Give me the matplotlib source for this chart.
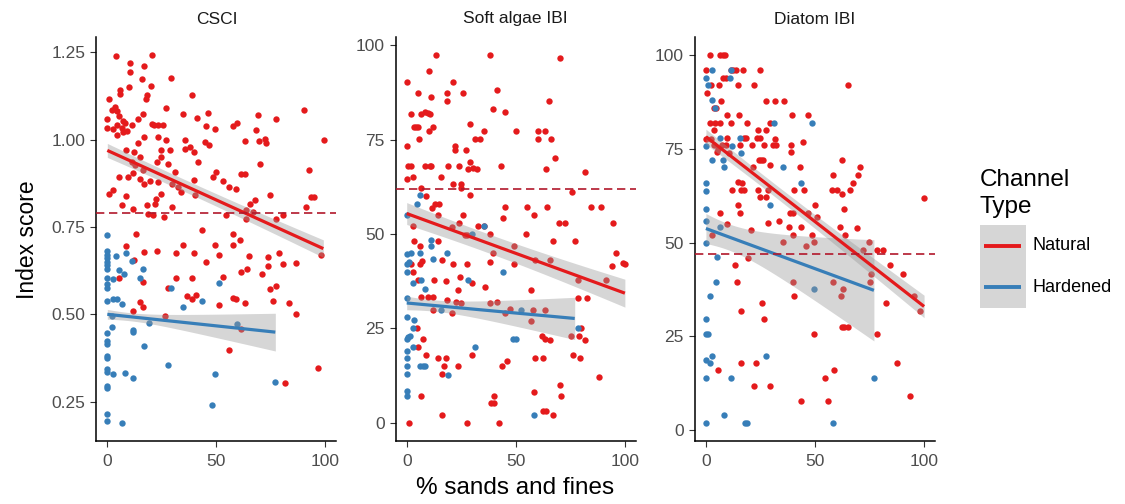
import numpy as np
import matplotlib
matplotlib.use("Agg")
import matplotlib.pyplot as plt
from matplotlib.patches import Rectangle

plt.rcParams['font.family'] = ['Liberation Sans', 'DejaVu Sans']

panels = ["CSCI", "Soft algae IBI", "Diatom IBI"]
groups = ["Natural", "Hardened"]
colors = {"Natural": "#E41A1C", "Hardened": "#377EB8"}
hline_color = "#B2182B"

# ---- CSCI ----
csci_nat = [
    (4, 1.239), (10.4, 1.218), (16.8, 1.211), (20.7, 1.241), (10.4, 1.192), (16, 1.172), (29, 1.177),
    (10, 1.151), (19.8, 1.153), (6, 1.141), (1, 1.117), (5.8, 1.13), (17.7, 1.117), (18.3, 1.127),
    (38.9, 1.129), (2, 1.084), (3.5, 1.092), (4.6, 1.082), (5.5, 1.067), (0, 1.06), (0, 1.034),
    (2.4, 1.03), (4.3, 1.041), (7, 1.053), (8.2, 1.048), (6.6, 1.033), (4.6, 1.012), (7.3, 1.022),
    (8.8, 1.025), (11.4, 1.041), (14.2, 1.06), (16.5, 1.072), (20.7, 1.046), (21.3, 1.041),
    (23.3, 1.041), (25.6, 1.041), (27.1, 1.089), (34.8, 1.074), (41.2, 1.063), (46.2, 1.077),
    (45.1, 1.038), (49.2, 1.03), (57.6, 1.038), (59.5, 1.047), (69, 1.07), (77.4, 1.058), (90, 1.086),
    (68.3, 1.027), (72.1, 1.003), (63, 0.995), (69.5, 0.995), (72.9, 0.989), (99.5, 0.998),
    (13.9, 0.989), (16.9, 1.008), (23.3, 1.008), (27.1, 0.998), (28.6, 0.971), (35.5, 0.998),
    (37.8, 0.979), (44.7, 0.993), (46.6, 0.984), (41.5, 0.936), (39.9, 0.965), (35.5, 0.974),
    (24.8, 0.971), (24.8, 0.95), (22.6, 0.936), (8.5, 0.969), (12.3, 0.965), (14.9, 0.95),
    (11.1, 0.936), (12.7, 0.927), (16.2, 0.912), (11.9, 0.903), (9.6, 0.893), (5.5, 0.893),
    (14.8, 0.888), (19.5, 0.882), (16.9, 0.874), (23.3, 0.879), (27.9, 0.931), (31, 0.907),
    (32.5, 0.865), (29.6, 0.874), (33.8, 0.85), (39.9, 0.884), (40.2, 0.841), (48.6, 0.893),
    (49.8, 0.907), (53, 0.882), (56, 0.865), (59.1, 0.86), (61.4, 0.901), (63, 0.901), (70, 0.931),
    (74.7, 0.841), (92.4, 0.914), (93.3, 0.836), (94.8, 0.836), (90.9, 0.807), (1, 0.844),
    (2.7, 0.857), (8.5, 0.838), (6.6, 0.812), (11.6, 0.802), (18, 0.812), (22.3, 0.831),
    (21.8, 0.817), (24.7, 0.845), (18.8, 0.786), (21, 0.783), (25.9, 0.779), (29.6, 0.807),
    (63.7, 0.798), (65.2, 0.817), (67.5, 0.826), (66.8, 0.793), (63.4, 0.774), (77.4, 0.774),
    (80.5, 0.783), (54.6, 0.783), (43.6, 0.74), (13.1, 0.729), (57.6, 0.729), (60.7, 0.712),
    (8.5, 0.695), (34.5, 0.698), (49.2, 0.698), (57.6, 0.698), (73.6, 0.664),
    (16.8, 0.677), (22.6, 0.681), (31.4, 0.675), (39.6, 0.675), (51.2, 0.669), (64.9, 0.667),
    (78.7, 0.675), (98, 0.669), (12.3, 0.656), (45.3, 0.65), (80.5, 0.643), (86.3, 0.648),
    (73.6, 0.638), (64, 0.631), (61.4, 0.621), (71, 0.614), (53, 0.608), (31.7, 0.603),
    (38.9, 0.603), (5.5, 0.605), (16.2, 0.593), (27.9, 0.576), (77.4, 0.581), (74.7, 0.572),
    (36.3, 0.551), (38.6, 0.545), (40.5, 0.554), (57.6, 0.548), (59.1, 0.543), (63, 0.533),
    (75.9, 0.538), (83.5, 0.531), (14.9, 0.535), (16.2, 0.522), (51.2, 0.526), (86.3, 0.502),
    (11.9, 0.51), (26.4, 0.495), (61.4, 0.457), (55.8, 0.398), (96.5, 0.347), (81.3, 0.302),
]
csci_hard = [
    (0, 0.726), (0, 0.68), (0, 0.67), (0, 0.66), (0, 0.65), (0, 0.64), (0, 0.63), (0, 0.605),
    (0, 0.586), (0, 0.576), (4, 0.667), (8.5, 0.675), (11.1, 0.652), (16.5, 0.63), (5.5, 0.628),
    (7.6, 0.614), (2.7, 0.6), (14.9, 0.605), (0, 0.538), (2.7, 0.543), (4.6, 0.543), (6.6, 0.529),
    (29, 0.576), (34.8, 0.522), (43.4, 0.538), (51.2, 0.589), (2, 0.495), (2, 0.465), (0, 0.446),
    (0, 0.424), (0, 0.414), (11.6, 0.455), (11.6, 0.448), (19, 0.474), (59.5, 0.471), (16.8, 0.408),
    (0, 0.381), (0, 0.376), (0, 0.343), (0, 0.334), (2.7, 0.329), (8.1, 0.331), (11.9, 0.319),
    (27.6, 0.354), (49.2, 0.329), (76.7, 0.306), (0, 0.296), (0, 0.288), (48, 0.24), (0, 0.214),
    (0, 0.195), (6.6, 0.19),
]

# ---- Soft algae IBI ----
soft_nat = [
    (13.5, 97.3), (38.4, 97.3), (70.4, 96.7), (0, 90.3), (10.4, 93.2), (21.2, 90.3), (5, 87.2),
    (11.3, 86.3), (18.3, 87.2), (18.6, 85.1), (25.9, 87.2), (41.3, 88.2), (39.5, 83.2), (45.2, 82.3),
    (65.3, 85.1), (1.9, 81.7), (6.5, 81.7), (8.5, 82.3), (9.8, 81.9), (10.5, 81.7), (3.4, 78.3),
    (4.3, 78.3), (5.4, 78.3), (12.1, 78.3), (10, 77.2), (5.7, 75.2), (28.9, 79.2), (35.3, 77.2),
    (31.4, 75.2), (33.7, 75.2), (50, 77.2), (60, 77.2), (63.2, 77.2), (60, 75.2), (66.1, 75.2),
    (0, 73.2), (22, 73.2), (22, 72.1), (27.4, 72.1), (68.1, 70.1), (0.8, 68.1), (1.9, 68.1),
    (8.5, 68.1), (10.5, 68.1), (11.3, 68.1), (18.9, 68.1), (24, 68.1), (29.1, 69), (30.2, 67.5),
    (27.9, 67.3), (32.2, 67.3), (43, 68.1), (63.8, 67.3), (81.7, 66.5), (0, 64.6), (2.8, 65),
    (15.5, 65), (6.7, 62.1), (21.2, 63.1), (25.1, 63.1), (25.1, 62.1), (9, 60), (29.1, 60.2),
    (75.9, 61.1), (12.8, 58), (15, 58), (11.5, 56.9), (14.2, 55), (26, 55), (45.2, 57.1),
    (44.1, 54.2), (55, 57.1), (58.5, 55), (64.2, 57.1), (84.4, 57.1), (89, 57.1), (70, 52.9),
    (72.4, 52.9), (94.4, 52.9), (2.8, 52.2), (24, 52.8), (32.5, 52.2), (35.3, 52.2), (20.9, 51.8),
    (38.4, 50), (54.6, 50), (27.6, 49.6), (26.9, 49.6), (3.4, 48), (14.4, 48), (67, 48), (77.1, 48),
    (49.2, 46.9), (5.9, 46.9),
    (1.9, 42.1), (6.2, 42.1), (7, 42.8), (16.3, 43), (21.4, 42.1), (27.6, 42.1), (38.4, 42.5),
    (39.5, 44.9), (49.2, 42.1), (58.8, 43), (65.8, 43), (94.1, 41.4), (96, 44.9), (99.1, 42.3),
    (100, 42.1), (2.8, 39.9), (5.4, 37.9), (12.4, 37.9), (17.8, 37.5), (24.5, 38.6), (29.7, 37.1),
    (35.9, 36), (23.7, 35.1), (6.7, 33.2), (9.6, 33.2), (12.1, 33.2), (18.3, 32.6), (22.4, 32),
    (24.8, 31.8), (38.4, 31.6), (41.5, 32), (12.1, 29.8), (20.9, 29.1), (47.2, 30), (57, 35.1),
    (58, 29.8), (63.2, 29.8), (57, 27), (44.9, 29.1), (78.6, 32.9), (82.8, 32.9), (78.6, 37.9),
    (91.3, 37.9), (75.5, 23), (79.7, 25), (78.9, 23), (81.7, 21.9), (61.9, 23), (63.5, 22.1),
    (65.8, 21.9), (4.6, 25), (7.4, 22.1), (5.4, 20), (9, 18), (14.4, 17.1), (17.8, 17.1),
    (17.3, 14.9), (16.3, 13), (23.7, 14.9), (29.7, 18), (43.8, 14.9), (46, 16.4), (58.8, 17.1),
    (62.4, 17.1), (76, 18), (79.6, 17.1), (88.2, 12.1), (70.4, 10.1), (70.9, 7), (58.5, 8.1),
    (6.5, 7), (40.2, 7), (38.7, 5.1), (39.9, 5.1), (62.4, 3.1), (63.8, 3.1), (67, 2), (16.3, 2),
    (1.2, 0), (27.6, 0), (42.3, 0),
]
soft_hard = [
    (4.6, 58), (5.9, 60.2), (0, 55), (11.3, 48.5), (11.3, 46.9), (35.6, 52), (29.9, 50),
    (0, 44.7), (1.9, 44.9), (5.9, 44.9), (12.1, 43.4), (18.3, 44.9), (0, 42.1), (1.2, 42.5),
    (0, 39.9), (2.8, 37), (6.7, 37.9), (8.5, 35.5), (28.3, 37.9), (44.1, 39.9), (0, 32.9),
    (15.5, 29.8), (3.4, 27.2), (0, 27.9), (2.8, 25), (0, 22.1), (0.8, 22.6), (1.5, 23), (2.8, 20),
    (0, 18.9), (0, 17.1), (0, 14.9), (0, 13), (6.2, 14.9), (7.4, 14.9), (8.5, 14.9), (18.9, 12.7),
    (31.4, 20), (48.8, 22.1), (50.3, 22.1), (0, 8.3), (0, 7), (58.5, 2), (52.3, 29.8), (78.6, 25),
]

# ---- Diatom IBI ----
diat_nat = [
    (1.8, 100), (6.5, 100), (7.7, 100), (8.8, 100), (0, 96), (11.4, 96), (12.6, 96), (13.7, 96),
    (17.2, 96), (24.6, 96), (0.3, 90), (2.2, 92), (6, 92), (8, 94), (9.1, 94), (14.5, 92), (22.2, 92),
    (64.9, 92), (3.7, 86), (4.6, 86), (6.8, 87.8), (27.5, 87.8), (31.8, 87.8), (35.7, 87.8),
    (9.8, 84), (15.2, 84), (39.5, 84), (46.9, 84), (1.8, 82), (4.2, 82), (6.5, 82), (11.4, 82),
    (18.8, 82), (29.2, 82), (3.7, 80), (23.7, 80), (27.7, 80), (9.8, 78), (17.5, 78), (18.5, 78),
    (23.4, 78), (24.6, 78), (31.8, 77.8), (0, 77.8), (2.5, 77.8), (7.2, 76), (9.2, 76), (15.7, 76),
    (21, 76), (26.8, 76), (30.8, 76), (32.3, 76), (39, 76), (44.6, 76.9), (3.7, 76), (5.4, 75.1),
    (10.8, 74), (38.8, 74.2), (24.2, 72), (25.2, 72), (26.2, 72), (29.2, 70.7), (21.8, 70.1),
    (42.9, 70.1), (70.8, 70.1), (62.2, 72), (5.2, 74.1), (14.9, 66.3), (16.5, 66), (58.3, 68),
    (69.5, 68), (11.8, 64), (16, 64), (17.5, 64), (23.7, 64), (28.3, 64), (40.6, 64), (44.9, 64),
    (58, 64), (60.3, 64), (66.2, 64), (67.2, 66), (62.3, 63), (24.6, 62.1), (27.5, 62.1),
    (14.9, 60), (50, 60), (15.4, 58), (38.5, 58), (40, 58), (46.8, 58), (6.5, 58), (51, 57),
    (63.1, 59), (28.3, 55.4), (33.7, 55.9), (9.8, 55), (38, 54.3), (43.7, 54.3), (61.5, 54.3),
    (69.2, 54), (20.6, 53.4), (2.6, 52), (40, 52), (48.8, 52), (63.7, 52), (35.4, 50.3), (46, 49),
    (49.5, 50.3), (74.6, 50.3), (71.8, 48), (78.5, 48), (81.1, 48), (84.2, 44), (100, 62),
    (13.4, 44), (19.1, 45.8),
    (14.4, 39.6), (39.9, 39.6), (58.1, 39.6), (62.9, 37.6), (75.2, 39.6), (61.7, 35.8),
    (40.6, 35.8), (25.6, 33.8), (16.1, 31.7), (26.7, 29.7), (90.5, 41.7), (82.4, 33.8),
    (95.4, 35.8), (98.2, 31.7), (75.5, 41.7), (49.7, 25.7), (62.4, 27.6), (63.5, 27.6), (65, 27.6),
    (78.2, 25.7), (5.4, 16), (16.1, 18), (23, 18), (22.1, 11.9), (29.4, 11.9), (43.7, 7.9),
    (56, 7.9), (54.5, 14), (58.6, 16), (87.7, 18), (93.6, 9),
]
diat_hard = [
    (0, 94), (2.6, 96), (1.1, 92), (2.9, 88), (4.2, 86), (11.1, 94), (11.4, 96), (31.4, 82),
    (48.8, 82), (15.4, 78), (0, 75.8), (11.8, 75.8), (6.5, 78), (2.6, 72), (7.7, 72), (8.3, 70.1),
    (35.4, 70.1), (16, 74), (43.7, 66), (0, 66), (0, 63.9), (29.2, 60), (0, 59), (0, 55.9),
    (6.5, 54.1), (0, 50), (5.2, 46.1), (4.6, 39.6), (1.8, 35.7), (0, 29.7), (0, 25.7), (1.1, 25.7),
    (0, 18.8), (1.8, 18), (2.9, 19.8), (0, 14), (11.3, 14), (27.6, 19.8), (49.7, 37.6), (77, 14),
    (8.4, 4), (17.9, 2), (19, 2), (0, 2), (58.3, 2),
]

points = {
    "CSCI": {"Natural": csci_nat, "Hardened": csci_hard},
    "Soft algae IBI": {"Natural": soft_nat, "Hardened": soft_hard},
    "Diatom IBI": {"Natural": diat_nat, "Hardened": diat_hard},
}

# fitted lines: x0, x1, y0, y1, half-width at x0, at x1, x of narrowest band
fits = {
    "CSCI": {"Natural": (0, 99, 0.969, 0.688, 0.020, 0.025, 35),
             "Hardened": (0, 77, 0.500, 0.449, 0.014, 0.054, 10)},
    "Soft algae IBI": {"Natural": (0, 100, 55.4, 34.3, 2.9, 3.7, 35),
                       "Hardened": (0, 77, 31.7, 27.6, 1.8, 5.6, 12)},
    "Diatom IBI": {"Natural": (0, 100, 78.3, 33.0, 2.0, 3.0, 30),
                   "Hardened": (0, 77, 53.8, 37.3, 4.0, 13.5, 10)},
}
thresholds = {"CSCI": 0.79, "Soft algae IBI": 62, "Diatom IBI": 47}
yticks = {"CSCI": [0.25, 0.50, 0.75, 1.00, 1.25],
          "Soft algae IBI": [0, 25, 50, 75, 100],
          "Diatom IBI": [0, 25, 50, 75, 100]}
xticks = [0, 50, 100]

W, H = 1125, 504
fig = plt.figure(figsize=(W / 100, H / 100), dpi=100)

panel_left = [96.4, 395.8, 695.0]
panel_w = 240
top_px, bot_px = 37, 441

for name, lx in zip(panels, panel_left):
    ax = fig.add_axes([lx / W, 1 - bot_px / H, panel_w / W, (bot_px - top_px) / H])
    ally = []
    for g in groups:
        xy = np.array(points[name][g])
        ax.scatter(xy[:, 0], xy[:, 1], s=21, color=colors[g], linewidths=0, zorder=2)
        ally.extend(xy[:, 1])
    for g in groups:
        x0, x1, y0, y1, h0, h1, xm = fits[name][g]
        xs = np.linspace(x0, x1, 80)
        ys = y0 + (y1 - y0) * (xs - x0) / (x1 - x0)
        b = (h1 ** 2 - h0 ** 2) / ((x1 - xm) ** 2 - (x0 - xm) ** 2)
        a = h0 ** 2 - b * (x0 - xm) ** 2
        hw = np.sqrt(a + b * (xs - xm) ** 2)
        ax.fill_between(xs, ys - hw, ys + hw, color="#999999", alpha=0.4, linewidth=0, zorder=3)
        ax.plot(xs, ys, color=colors[g], lw=2.3, zorder=4, solid_capstyle="butt")
        ally.extend([(ys - hw).min(), (ys + hw).max()])
    ax.axhline(thresholds[name], color=hline_color, lw=1.2, dashes=(5, 2.8), zorder=5)

    lo, hi = min(ally), max(ally)
    pad = (hi - lo) * 0.05
    ax.set_ylim(lo - pad, hi + pad)
    ax.set_xlim(-5, 105)
    ax.set_xticks(xticks)
    ax.set_yticks(yticks[name])
    if name == "CSCI":
        ax.set_yticklabels([f"{v:.2f}" for v in yticks[name]])
    for s in ["top", "right"]:
        ax.spines[s].set_visible(False)
    for s in ["left", "bottom"]:
        ax.spines[s].set_color("black")
        ax.spines[s].set_linewidth(1.1)
    ax.tick_params(length=4, width=0.8, color="#333333", labelcolor="#4D4D4D",
                   labelsize=12.5)
    ax.tick_params(axis="x", pad=5)
    ax.tick_params(axis="y", pad=4)
    ax.set_facecolor("white")
    fig.text((lx + panel_w / 2) / W, 1 - 19 / H, name, ha="center", va="center",
             fontsize=12.5, color="#1A1A1A")

fig.text(28 / W, 1 - 240 / H, "Index score", rotation=90, ha="center", va="center",
         fontsize=16.5, color="black")
fig.text(515 / W, 1 - 488 / H, "% sands and fines", ha="center", va="center",
         fontsize=17.5, color="black")

# legend
lax = fig.add_axes([0, 0, 1, 1])
lax.set_xlim(0, W)
lax.set_ylim(H, 0)
lax.axis("off")
lax.patch.set_alpha(0)
lax.text(980, 180, "Channel", fontsize=17.5, va="center", ha="left", color="black")
lax.text(980, 207, "Type", fontsize=17.5, va="center", ha="left", color="black")
lax.add_patch(Rectangle((980, 225), 46, 83, facecolor="#D6D6D6", edgecolor="none"))
for g, yk in zip(groups, [246, 287]):
    lax.plot([984, 1021], [yk, yk], color=colors[g], lw=2.8, solid_capstyle="butt")
    lax.text(1032, yk, g, fontsize=13, va="center", ha="left", color="black")

fig.savefig("out.png", dpi=100, facecolor="white")
